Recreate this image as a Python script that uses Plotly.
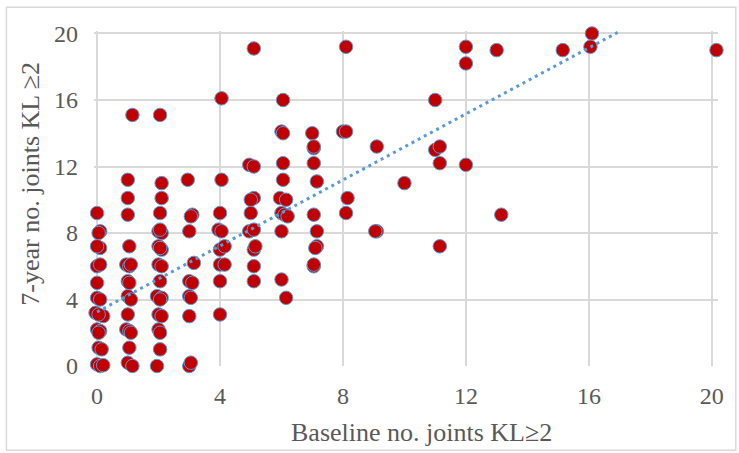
import plotly.graph_objects as go

# ---- data ----
baseline_joints = [
    # x ~ 0
    0.0, 0.1, 0.05, 0.1, 0.0, 0.0, 0.1, 0.0, 0.0, 0.1, -0.05, 0.2, 0.05, 0.0, 0.1, 0.05, 0.05, 0.15, 0.0, 0.1, 0.2,
    # x ~ 1
    1.0, 1.0, 1.0, 1.05, 0.95, 1.05, 1.1, 1.0, 1.05, 1.0, 1.1, 1.0, 0.95, 1.05, 1.1, 1.05, 1.0, 1.15, 1.15,
    # x ~ 2
    2.1, 2.1, 2.05, 2.0, 2.1, 2.05, 2.0, 2.1, 2.05, 2.0, 2.1, 2.05, 1.95, 2.1, 2.05, 2.0, 2.1, 2.0, 2.05, 2.05, 1.95, 2.05,
    # x ~ 3
    2.95, 3.1, 3.05, 3.0, 3.15, 3.0, 3.1, 3.0, 3.05, 3.0, 3.0, 3.05,
    # x ~ 4
    4.05, 4.05, 4.0, 3.95, 4.05, 4.0, 4.15, 4.0, 4.15, 4.0, 4.0,
    # x ~ 5
    5.1, 4.95, 5.1, 5.1, 5.0, 5.0, 4.95, 5.1, 5.1, 5.15, 5.1, 5.1,
    # x ~ 6
    6.05, 6.0, 6.05, 6.05, 6.05, 5.95, 6.15, 6.0, 6.1, 6.2, 6.0, 6.0, 6.15,
    # x ~ 7
    7.0, 7.05, 7.05, 7.05, 7.15, 7.05, 7.15, 7.15, 7.1, 7.05, 7.05,
    # x ~ 8 .. 20
    8.0, 8.1, 8.15, 8.1, 8.1,
    9.1, 9.05, 9.1,
    10.0,
    11.0, 11.0, 11.15, 11.15, 11.15,
    12.0, 12.0, 12.0,
    13.0, 13.15,
    15.15,
    16.1, 16.05,
    20.15,
]
seven_year_joints = [
    # x ~ 0
    9.2, 8.1, 8.0, 7.1, 7.2, 6.0, 6.1, 5.0, 4.1, 4.0, 3.2, 3.0, 3.1, 2.2, 2.1, 2.0, 1.1, 1.0, 0.1, 0.0, 0.05,
    # x ~ 1
    11.2, 10.1, 9.1, 7.2, 6.1, 6.0, 6.1, 5.1, 5.0, 4.2, 4.0, 3.1, 2.2, 2.1, 2.0, 1.1, 0.2, 0.0, 15.1,
    # x ~ 2
    11.0, 10.1, 9.2, 8.1, 8.0, 8.2, 7.2, 7.0, 7.1, 6.1, 6.0, 5.1, 4.2, 4.1, 4.0, 3.1, 3.0, 2.2, 2.0, 1.0, 0.0, 15.1,
    # x ~ 3
    11.2, 9.1, 9.0, 8.1, 6.2, 5.1, 5.0, 4.2, 4.1, 3.0, 0.0, 0.2,
    # x ~ 4
    16.1, 11.2, 9.2, 8.2, 8.1, 7.0, 7.2, 6.1, 6.1, 5.1, 3.1,
    # x ~ 5
    19.1, 12.1, 12.0, 10.1, 10.0, 9.2, 8.1, 8.2, 7.0, 7.2, 6.0, 5.1,
    # x ~ 6
    16.0, 14.1, 14.0, 12.2, 11.2, 10.1, 10.0, 9.2, 9.1, 9.0, 8.1, 5.2, 4.1,
    # x ~ 7
    14.0, 13.1, 13.2, 12.2, 11.1, 9.1, 8.1, 7.2, 7.1, 6.0, 6.1,
    # x ~ 8 .. 20
    14.1, 14.1, 10.1, 9.2, 19.2,
    8.1, 8.1, 13.2,
    11.0,
    16.0, 13.0, 13.2, 12.2, 7.2,
    19.2, 18.2, 12.1,
    19.0, 9.1,
    19.0,
    20.0, 19.2,
    19.0,
]

# linear trend line end points
trend_x = [0, 17]
trend_y = [3.25, 20.13]

tick_vals = [0, 4, 8, 12, 16, 20]
tick_text = ["0", "4", "8", "12", "16", "20"]

x_title = "Baseline no. joints KL≥2"
y_title = "7-year no. joints KL ≥2"

# ---- layout geometry (pixels) ----
W, H = 739, 453
X0_PX, X20_PX = 96.7, 712.0      # pixel of x=0 and x=20
Y0_PX, Y20_PX = 365.7, 33.3      # pixel of y=0 and y=20
XR = [-0.1, 20.2]
YR = [0.0, 20.15]
UX = (X20_PX - X0_PX) / 20
UY = (Y0_PX - Y20_PX) / 20
ML = X0_PX + XR[0] * UX
MR = W - (X0_PX + XR[1] * UX)
MT = Y0_PX - YR[1] * UY
MB = H - (Y0_PX - YR[0] * UY)
PW, PH = W - ML - MR, H - MT - MB

def px_to_paper_x(px):
    return (px - ML) / PW

def px_to_paper_y(py):
    return (H - MB - py) / PH

FONT = "Liberation Serif, Times New Roman, serif"
TEXT_COLOR = "#595959"
GRID = "#D9D9D9"

fig = go.Figure()

fig.add_trace(go.Scatter(
    x=baseline_joints, y=seven_year_joints, mode="markers",
    marker=dict(size=13.5, color="#C00000", line=dict(color="#5B9BD5", width=1)),
    cliponaxis=False, showlegend=False, hoverinfo="x+y",
))

fig.add_trace(go.Scatter(
    x=trend_x, y=trend_y, mode="lines",
    line=dict(color="#5B9BD5", width=3, dash="3px,4px"),
    cliponaxis=False, showlegend=False, hoverinfo="skip",
))

axis_common = dict(
    tickvals=tick_vals, ticktext=tick_text,
    showgrid=True, gridcolor=GRID, gridwidth=1.5,
    zeroline=False, showline=False, ticks="",
    tickfont=dict(family=FONT, size=24, color=TEXT_COLOR),
    fixedrange=True,
)

fig.update_layout(
    width=W, height=H,
    margin=dict(l=ML, r=MR, t=MT, b=MB, pad=0),
    paper_bgcolor="white", plot_bgcolor="white",
    xaxis=dict(**axis_common, range=XR, ticklabelstandoff=13),
    yaxis=dict(**axis_common, range=YR, ticklabelstandoff=15),
    annotations=[
        dict(text=x_title, xref="paper", yref="paper",
             x=px_to_paper_x(421), y=px_to_paper_y(432),
             xanchor="center", yanchor="middle", showarrow=False,
             font=dict(family=FONT, size=26, color=TEXT_COLOR)),
        dict(text=y_title, xref="paper", yref="paper",
             x=px_to_paper_x(30), y=px_to_paper_y(183),
             xanchor="center", yanchor="middle", showarrow=False, textangle=-90,
             font=dict(family=FONT, size=26, color=TEXT_COLOR)),
    ],
    shapes=[
        dict(type="rect", xref="paper", yref="paper",
             x0=px_to_paper_x(6), x1=px_to_paper_x(736),
             y0=px_to_paper_y(450), y1=px_to_paper_y(7),
             line=dict(color=GRID, width=1.5), fillcolor="rgba(0,0,0,0)", layer="below"),
    ],
)

fig.write_html("out.html", config={"displayModeBar": False},
               post_script="document.body.style.margin='0';")
